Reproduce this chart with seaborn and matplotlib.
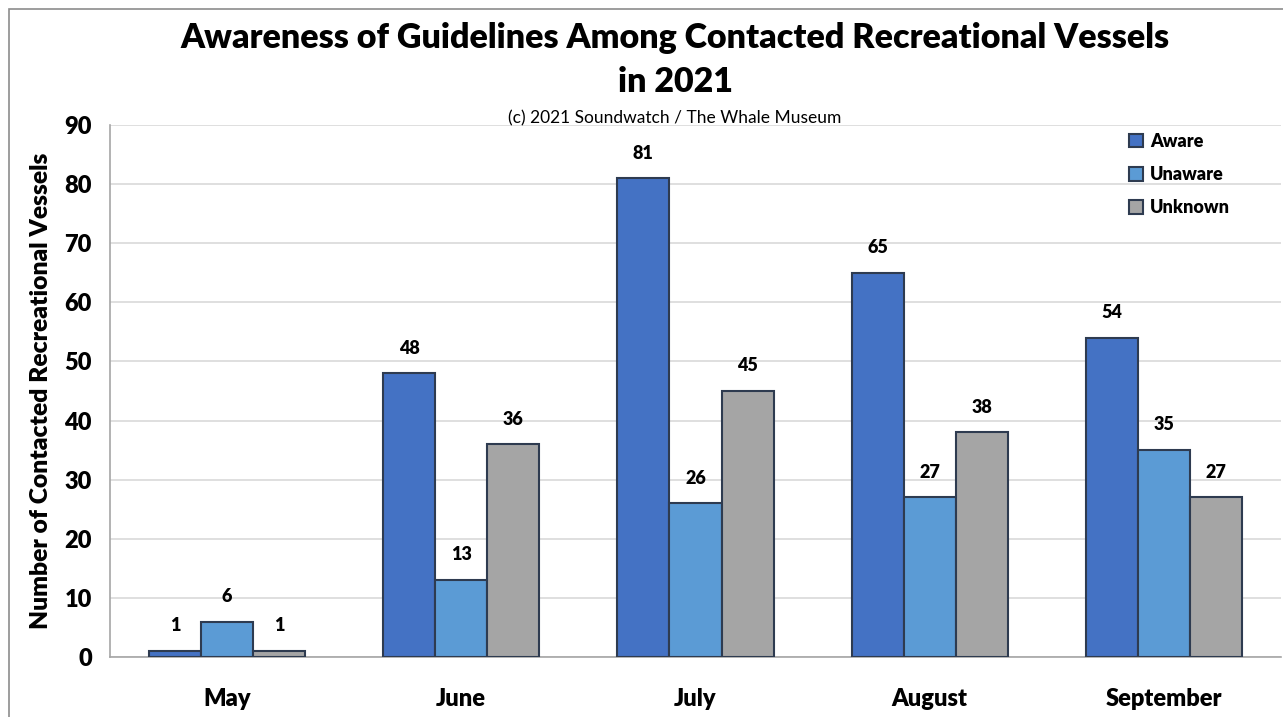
import matplotlib
matplotlib.use("Agg")
import matplotlib.pyplot as plt
from matplotlib.patches import Rectangle, Patch
import seaborn as sns
import pandas as pd
import numpy as np

months = ["May", "June", "July", "August", "September"]
series = ["Aware", "Unaware", "Unknown"]
aware = [1, 48, 81, 65, 54]
unaware = [6, 13, 26, 27, 35]
unknown = [1, 36, 45, 38, 27]
colors = ["#4472C4", "#5B9BD5", "#A5A5A5"]
yticks = [0, 10, 20, 30, 40, 50, 60, 70, 80, 90]

rows = []
for s, vals in zip(series, [aware, unaware, unknown]):
    for m, v in zip(months, vals):
        rows.append({"Month": m, "Status": s, "Count": v})
df = pd.DataFrame(rows)

sns.set_style("white")
plt.rcParams["font.family"] = ["Lato", "DejaVu Sans"]
plt.rcParams["text.color"] = "black"
plt.rcParams["xtick.color"] = "black"
plt.rcParams["ytick.color"] = "black"
plt.rcParams["axes.labelcolor"] = "black"
W = "heavy"

fig = plt.figure(figsize=(12.83, 7.17), dpi=100)
ax = fig.add_axes([110/1283, 60/717, (1281-110)/1283, (657-125)/717])

sns.barplot(data=df, x="Month", y="Count", hue="Status", order=months,
            hue_order=series, palette=colors, width=0.667, gap=0, saturation=1,
            edgecolor="#2E3B50", linewidth=1.5, ax=ax, legend=False, zorder=3)

for cont in ax.containers:
    ax.bar_label(cont, padding=12, fontsize=13, fontweight=W)

ax.set_ylim(0, 90)
ax.set_xlim(-0.5, 4.5)
ax.set_yticks(yticks)
ax.yaxis.grid(True, color="#D9D9D9", linewidth=1.2, zorder=0)
ax.set_axisbelow(True)
for side in ["top", "right"]:
    ax.spines[side].set_visible(False)
for side in ["left", "bottom"]:
    ax.spines[side].set_color("#A6A6A6")
    ax.spines[side].set_linewidth(1.2)

ax.set_xticks(np.arange(-0.5, 5, 1), minor=True)
ax.tick_params(axis="x", which="major", length=0, pad=22, labelsize=17, colors="black")
ax.tick_params(axis="x", which="minor", length=8, color="#A6A6A6", width=1.2)
ax.tick_params(axis="y", length=7, color="#A6A6A6", labelcolor="black", width=1.2, labelsize=17, pad=6)
for lab in ax.get_xticklabels() + ax.get_yticklabels():
    lab.set_fontweight(W)

ax.set_xlabel("")
ax.set_ylabel("Number of Contacted Recreational Vessels", fontsize=17.7,
              fontweight=W, labelpad=9)

handles = [Patch(facecolor=c, edgecolor="#2E3B50", linewidth=1.5, label=s)
           for c, s in zip(colors, series)]
leg = ax.legend(handles=handles, loc="upper left", bbox_to_anchor=((1128-110)/1171 - 0.013, 1.016),
                frameon=False, handlelength=0.8, handleheight=0.8,
                handletextpad=0.35, labelspacing=0.9, prop={"weight": W, "size": 13})

fig.text(675/1283, 1 - 60/717, "Awareness of Guidelines Among Contacted Recreational Vessels\nin 2021",
         ha="center", va="center", fontsize=24.5, fontweight=W, linespacing=1.5)
fig.text(675/1283, 1 - 118/717, "(c) 2021 Soundwatch / The Whale Museum",
         ha="center", va="center", fontsize=12.5)

fig.patches.append(Rectangle((9/1283, -0.1), 2, 1 - 9/717 + 0.1, transform=fig.transFigure,
                             fill=False, edgecolor="#8C8C8C", linewidth=1.2))

fig.savefig("out.png", dpi=100)
